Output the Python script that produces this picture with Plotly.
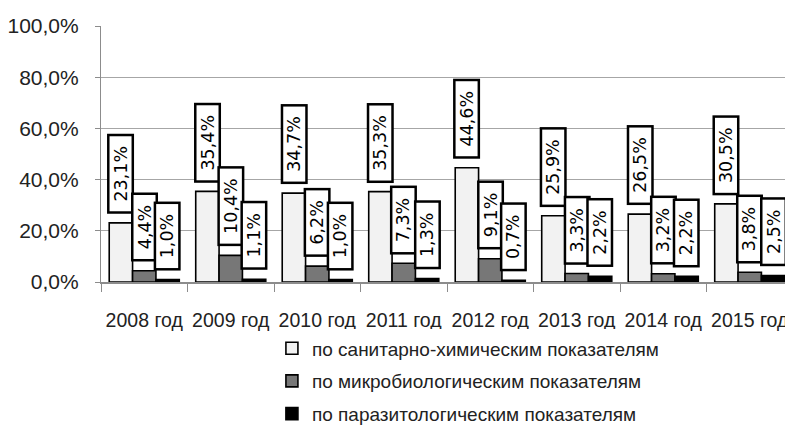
import plotly.graph_objects as go

# data
years = ["2008 год", "2009 год", "2010 год", "2011 год",
         "2012 год", "2013 год", "2014 год", "2015 год"]
sanitary = [23.1, 35.4, 34.7, 35.3, 44.6, 25.9, 26.5, 30.5]
microbio = [4.4, 10.4, 6.2, 7.3, 9.1, 3.3, 3.2, 3.8]
parasito = [1.0, 1.1, 1.0, 1.3, 0.7, 2.2, 2.2, 2.5]
series_names = ["по санитарно-химическим показателям",
                "по микробиологическим показателям",
                "по паразитологическим показателям"]
y_ticks = [0, 20, 40, 60, 80, 100]
y_ticktext = ["0,0%", "20,0%", "40,0%", "60,0%", "80,0%", "100,0%"]

colors = ["#f2f2f2", "#777777", "#000000"]
narrow = "Liberation Sans Narrow, Liberation Sans, Arial, sans-serif"

fig = go.Figure()
for k, (name, vals) in enumerate(zip(series_names, [sanitary, microbio, parasito])):
    fig.add_trace(go.Bar(
        x=years, y=vals, name=name, legendgroup=str(k),
        marker=dict(color=colors[k], line=dict(color="black", width=1.6)),
    ))

# boxed, rotated value labels above each bar
bar_w = 0.81 / 3
for k, vals in enumerate([sanitary, microbio, parasito]):
    for i, v in enumerate(vals):
        fig.add_annotation(
            x=i + (k - 1) * bar_w, y=v, xref="x", yref="y",
            text="\u2002" + f"{v:.1f}".replace(".", ",") + "%" + "\u2002",
            textangle=-90, showarrow=False,
            yanchor="bottom", yshift=9,
            font=dict(family="DejaVu Sans", size=17.5, color="black"),
            bgcolor="white", bordercolor="black", borderwidth=2.5, borderpad=1,
        )

# page body adds an 8px margin, so the figure is offset by 8px in the window
fig.update_layout(
    width=785, height=423,
    margin=dict(l=93, r=0, t=18, b=149, autoexpand=False),
    paper_bgcolor="white", plot_bgcolor="white",
    barmode="group", bargap=0.19, bargroupgap=0,
    showlegend=True,
    legend=dict(x=0.247, y=-0.185, xanchor="left", yanchor="top",
                orientation="v", tracegroupgap=5, itemwidth=30,
                font=dict(family=narrow, size=19, color="#222222")),
    font=dict(family=narrow, color="#222222"),
)
fig.update_xaxes(
    type="category", showline=True, linecolor="#8c8c8c", linewidth=1.5,
    ticks="outside", ticklen=8, tickcolor="#8c8c8c", tickson="boundaries",
    ticklabelstandoff=20, showgrid=False, tickangle=0,
    tickfont=dict(family=narrow, size=19.5, color="#222222"),
)
fig.update_yaxes(
    range=[0, 100], tickvals=y_ticks, ticktext=y_ticktext,
    showline=True, linecolor="#8c8c8c", linewidth=1.2,
    ticks="outside", ticklen=5, tickcolor="#8c8c8c", ticklabelstandoff=12,
    showgrid=True, gridcolor="#a6a6a6", gridwidth=1.2, zeroline=False,
    tickfont=dict(family=narrow, size=21, color="#222222"),
)

fig.write_html("out.html")
